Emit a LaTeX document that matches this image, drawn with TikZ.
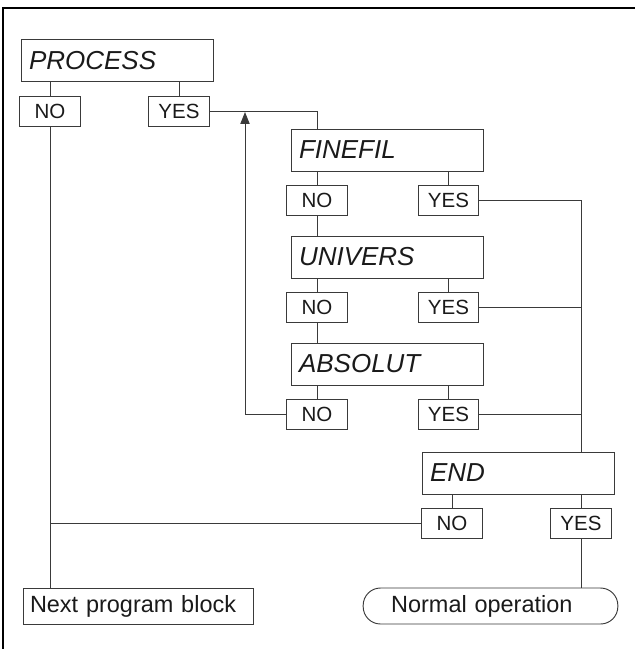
\documentclass[tikz,border=0pt]{standalone}
\usepackage{fontspec}
\setmainfont{Liberation Sans}
\usepackage{xcolor}
\usetikzlibrary{positioning,calc,arrows.meta}
\definecolor{linegray}{HTML}{3A3A3A}
\definecolor{textblack}{HTML}{1A1A1A}

\begin{document}
\begin{tikzpicture}[
  x=0.75pt, y=-0.75pt,
  line width=0.7pt, color=linegray, text=textblack,
  menu/.style={rectangle, draw, minimum width=144pt, minimum height=31.5pt,
               text width=132pt, inner xsep=6pt, align=left,
               font=\fontsize{19.5}{22}\selectfont\itshape},
  choice/.style={rectangle, draw, minimum width=45.5pt, minimum height=22.5pt,
                 inner sep=0pt, font=\fontsize{15.4}{17}\selectfont},
  exitbox/.style={rectangle, draw, minimum height=27pt, inner ysep=0pt,
                  align=left, font=\fontsize{17.6}{20}\selectfont},
  arrow/.style={-{Triangle[length=9pt,width=7pt]}}
]
\useasboundingbox (0,0) rectangle (635,649);

% frame
\draw[line width=1.1pt, black] (3,649) -- (3,8) -- (635,8);

% PROCESS
\node[menu] (process) at (117,60.5) {PROCESS};
\node[choice] (pno) at (50,111) {NO};
\node[choice] (pyes) at (179,111) {YES};

% FINEFIL
\node[menu] (finefil) at (387,150) {FINEFIL};
\node[choice] (fno) at (317,200) {NO};
\node[choice] (fyes) at (448.5,200) {YES};

% UNIVERS
\node[menu] (univers) at (387,257) {UNIVERS};
\node[choice] (uno) at (317,307) {NO};
\node[choice] (uyes) at (448.5,307) {YES};

% ABSOLUT
\node[menu] (absolut) at (387,364) {ABSOLUT};
\node[choice] (ano) at (317,414) {NO};
\node[choice] (ayes) at (448.5,414) {YES};

% END
\node[menu] (endbox) at (518,473) {END};
\node[choice] (eno) at (452,523) {NO};
\node[choice] (eyes) at (581,523) {YES};

% exits
\node[exitbox, text width=162pt, inner xsep=5.25pt] (next) at (138,606) {Next program block};
\node[exitbox, text width=149pt, inner xsep=21pt, rounded corners=13pt] (normal) at (490.5,606) {Normal operation};

\coordinate (back) at (245,112);

% connectors
\draw (process.south -| pno) -- (pno);
\draw (process.south -| pyes) -- (pyes);
\draw (pno) -- (pno |- next.north);
\draw (pyes.east) -| (fno |- finefil.north);

\draw (finefil.south -| fno) -- (fno);
\draw (finefil.south -| fyes) -- (fyes);
\draw (fno) -- (fno |- univers.north);
\draw (univers.south -| uno) -- (uno);
\draw (univers.south -| uyes) -- (uyes);
\draw (uno) -- (uno |- absolut.north);
\draw (absolut.south -| ano) -- (ano);
\draw (absolut.south -| ayes) -- (ayes);

\draw[arrow] (ano.west) -| (back);

\draw (fyes.east) -| (eyes |- endbox.north);
\draw (uyes.east) -- (uyes.east -| eyes);
\draw (ayes.east) -- (ayes.east -| eyes);

\draw (endbox.south -| eno) -- (eno);
\draw (endbox.south -| eyes) -- (eyes);
\draw (eno.west) -- (eno.west -| pno);
\draw (eyes) -- (eyes |- normal.north);

\end{tikzpicture}
\end{document}
